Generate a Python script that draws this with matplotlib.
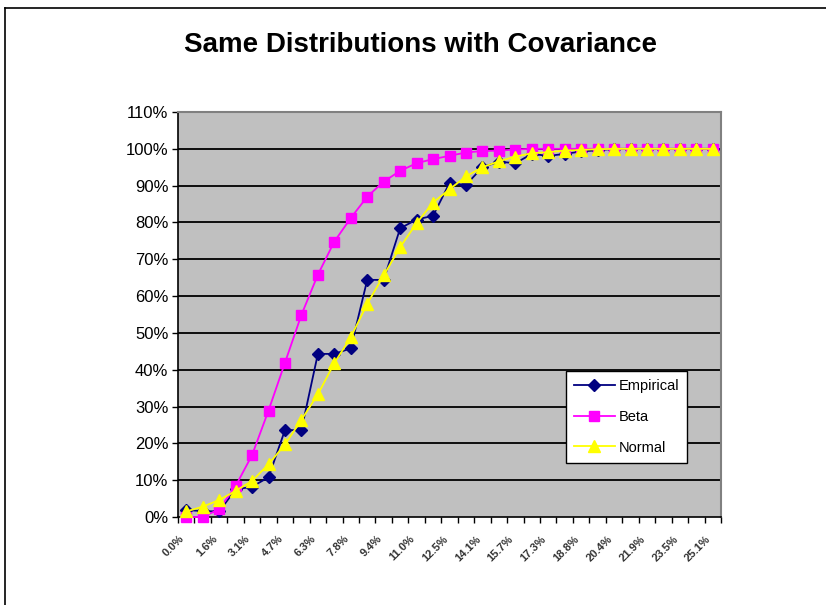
import matplotlib
matplotlib.use("Agg")
import matplotlib.pyplot as plt
from matplotlib.lines import Line2D
from matplotlib.ticker import FixedLocator, PercentFormatter

plt.rcParams["font.family"] = ["Liberation Sans", "DejaVu Sans"]

# Bin labels (shown every second bin)
x_labels = ["0.0%", "1.6%", "3.1%", "4.7%", "6.3%", "7.8%", "9.4%", "11.0%", "12.5%",
            "14.1%", "15.7%", "17.3%", "18.8%", "20.4%", "21.9%", "23.5%", "25.1%"]

# Cumulative probabilities (%) for the 33 bins
empirical = [1.9, 1.6, 1.5, 7.5, 8.2, 10.8, 23.6, 23.6, 44.3, 44.3, 45.8, 64.4, 64.4,
             78.4, 80.8, 81.8, 90.7, 90.2, 95.0, 96.5, 96.1, 98.6, 98.1, 98.6, 99.3,
             99.6, 100, 100, 100, 100, 100, 100, 100]
beta = [0.0, 0.0, 2.1, 8.4, 16.8, 28.9, 41.9, 54.9, 65.8, 74.8, 81.2, 87.0, 91.1,
        94.0, 96.1, 97.2, 98.1, 99.0, 99.4, 99.5, 99.8, 100, 100, 100, 100, 100,
        100, 100, 100, 100, 100, 100, 100]
normal = [1.5, 2.8, 4.6, 7.1, 9.8, 14.3, 19.7, 26.4, 33.3, 41.8, 48.8, 57.9, 65.6,
          73.3, 79.8, 85.4, 89.0, 92.5, 95.0, 96.6, 97.9, 98.8, 99.1, 99.5, 99.7,
          99.9, 100, 100, 100, 100, 100, 100, 100]

n = len(beta)
xs = list(range(n))

fig = plt.figure(figsize=(8.26, 6.05), dpi=100)
fig.patch.set_facecolor("white")

# Outer chart frame (left and top edges)
fig.add_artist(Line2D([5 / 826, 5 / 826], [0, 1 - 8 / 605], transform=fig.transFigure,
                      color="black", lw=1.2))
fig.add_artist(Line2D([5 / 826, 1], [1 - 8 / 605, 1 - 8 / 605], transform=fig.transFigure,
                      color="black", lw=1.2))

ax = fig.add_axes([178 / 826, 1 - 517 / 605, (721 - 178) / 826, (517 - 112) / 605])
ax.set_facecolor("#C0C0C0")

ax.set_xlim(-0.5, n - 0.5)
ax.set_ylim(0, 110)

# Horizontal gridlines
for v in range(10, 110, 10):
    ax.axhline(v, color="black", lw=1.3, zorder=1)

ax.plot(xs, empirical, color="#000080", lw=1.3, marker="D", markersize=6,
        markerfacecolor="#000080", markeredgecolor="#000080", label="Empirical",
        zorder=3, clip_on=False)
ax.plot(xs, beta, color="#FF00FF", lw=1.3, marker="s", markersize=7,
        markerfacecolor="#FF00FF", markeredgecolor="#FF00FF", label="Beta",
        zorder=4, clip_on=False)
ax.plot(xs, normal, color="#FFFF00", lw=1.3, marker="^", markersize=8,
        markerfacecolor="#FFFF00", markeredgecolor="#FFFF00", label="Normal",
        zorder=5, clip_on=False)

# Y axis
ax.yaxis.set_major_locator(FixedLocator(range(0, 111, 10)))
ax.yaxis.set_major_formatter(PercentFormatter(decimals=0))
ax.tick_params(axis="y", direction="out", length=4, width=1, labelsize=12, pad=3)

# X axis: tick marks on bin boundaries, labels on every second bin
ax.xaxis.set_major_locator(FixedLocator([i - 0.5 for i in range(n + 1)]))
ax.set_xticklabels([])
ax.tick_params(axis="x", which="major", direction="out", length=4, width=1)
ax.set_xticks(list(range(0, n, 2)), minor=True)
ax.set_xticklabels(x_labels, minor=True, rotation=45, ha="right", va="top",
                   rotation_mode="default", fontsize=8, fontweight="bold", color="#333333")
ax.tick_params(axis="x", which="minor", length=0, pad=12)

for side in ("left", "bottom"):
    ax.spines[side].set_color("black")
    ax.spines[side].set_linewidth(1.2)
for side in ("top", "right"):
    ax.spines[side].set_color("#808080")
    ax.spines[side].set_linewidth(1.5)

leg = ax.legend(loc="upper left", bbox_to_anchor=((566 - 178) / 543, (517 - 371) / 405),
                frameon=True, fancybox=False, edgecolor="black", facecolor="white",
                framealpha=1, fontsize=10.5, handlelength=2.8, borderpad=0.55,
                labelspacing=1.15, handletextpad=0.25, borderaxespad=0)
leg.get_frame().set_linewidth(1.0)
leg.set_zorder(10)

fig.text(421 / 826, 1 - 45 / 605, "Same Distributions with Covariance", ha="center",
         va="center", fontsize=20, fontweight="bold")

fig.savefig("out.png", dpi=100)
